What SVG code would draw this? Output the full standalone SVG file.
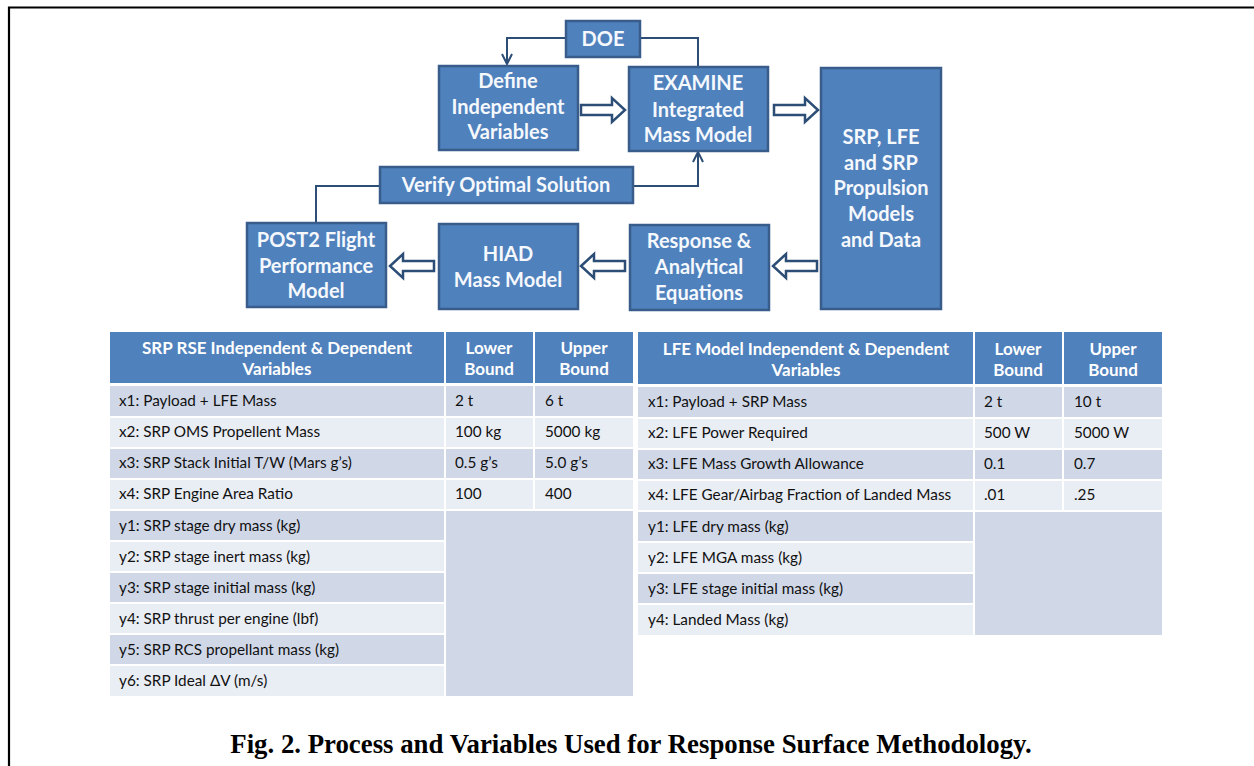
<svg xmlns="http://www.w3.org/2000/svg" width="1254" height="766" viewBox="0 0 1254 766">
<defs>
<marker id="vhead" viewBox="0 0 12 12" refX="11" refY="6" markerWidth="12" markerHeight="12" markerUnits="userSpaceOnUse" orient="auto">
<path d="M1,1 L11,6 L1,11" fill="none" stroke="#2c4d75" stroke-width="2"/>
</marker>
<path id="barrow" d="M0,-5 L31,-5 L31,-12 L44,0 L31,12 L31,5 L0,5 Z"/>
</defs>
<style>
.box{fill:#4f81bd;stroke:#385d8a;stroke-width:2.5}
.bt{font-family:Lato,"Open Sans",sans-serif;font-weight:bold;font-size:20px;fill:#f5f8fc;text-anchor:middle}
.conn{fill:none;stroke:#2c4d75;stroke-width:2}
.blk{fill:#ffffff;stroke:#2c4d75;stroke-width:2.5;stroke-linejoin:miter}
.hd{fill:#4f81bd}
.dk{fill:#d0d8e8}
.lt{fill:#e9edf4}
.ht{font-family:Lato,"Open Sans",sans-serif;font-weight:bold;font-size:17px;fill:#ffffff;text-anchor:middle}
.ct{font-family:Lato,"Open Sans",sans-serif;font-size:15.3px;fill:#111111}
.cap{font-family:"Liberation Serif","Times New Roman",serif;font-weight:bold;font-size:26.8px;fill:#000;text-anchor:middle}
</style>
<rect width="1254" height="766" fill="#ffffff"/>
<path d="M9,766 L9,7.5 L1254,7.5" fill="none" stroke="#000" stroke-width="2.2"/>

<g id="connectors">
<path class="conn" d="M566,38 L507,38 L507,64" marker-end="url(#vhead)"/>
<path class="conn" d="M640,38 L698,38 L698,67"/>
<path class="conn" d="M633,186 L698,186 L698,152" marker-end="url(#vhead)"/>
<path class="conn" d="M380,186 L316,186 L316,223"/>
<use href="#barrow" class="blk" transform="translate(581,110)"/>
<use href="#barrow" class="blk" transform="translate(774,110)"/>
<use href="#barrow" class="blk" transform="translate(434,266) scale(-1,1)"/>
<use href="#barrow" class="blk" transform="translate(625,266) scale(-1,1)"/>
<use href="#barrow" class="blk" transform="translate(817,266) scale(-1,1)"/>
</g>

<g id="doe">
<rect class="box" x="566" y="21" width="74" height="36"/>
<text class="bt" x="603" y="46">DOE</text>
</g>
<g id="define">
<rect class="box" x="439" y="66" width="139" height="84"/>
<text class="bt" x="508" y="88">Define</text>
<text class="bt" x="508" y="114">Independent</text>
<text class="bt" x="508" y="139">Variables</text>
</g>
<g id="examine">
<rect class="box" x="629" y="67" width="139" height="84"/>
<text class="bt" x="698" y="90">EXAMINE</text>
<text class="bt" x="698" y="117">Integrated</text>
<text class="bt" x="698" y="142">Mass Model</text>
</g>
<g id="srp-models">
<rect class="box" x="821" y="68" width="120" height="241"/>
<text class="bt" x="881" y="144">SRP, LFE</text>
<text class="bt" x="881" y="170">and SRP</text>
<text class="bt" x="881" y="195">Propulsion</text>
<text class="bt" x="881" y="221">Models</text>
<text class="bt" x="881" y="247">and Data</text>
</g>
<g id="verify">
<rect class="box" x="380" y="167" width="253" height="36"/>
<text class="bt" x="506" y="192">Verify Optimal Solution</text>
</g>
<g id="post2">
<rect class="box" x="247" y="223" width="139" height="84"/>
<text class="bt" x="316" y="247">POST2 Flight</text>
<text class="bt" x="316" y="273">Performance</text>
<text class="bt" x="316" y="298">Model</text>
</g>
<g id="hiad">
<rect class="box" x="439" y="224" width="139" height="85"/>
<text class="bt" x="508" y="261">HIAD</text>
<text class="bt" x="508" y="287">Mass Model</text>
</g>
<g id="response">
<rect class="box" x="630" y="225" width="139" height="85"/>
<text class="bt" x="699" y="248">Response &amp;</text>
<text class="bt" x="699" y="274">Analytical</text>
<text class="bt" x="699" y="300">Equations</text>
</g>

<g id="table-srp">
<rect class="hd" x="110" y="332" width="334" height="51"/>
<rect class="hd" x="446" y="332" width="87" height="51"/>
<rect class="hd" x="535" y="332" width="98" height="51"/>
<text class="ht" x="277" y="354">SRP RSE Independent &amp; Dependent</text>
<text class="ht" x="277" y="375">Variables</text>
<text class="ht" x="489" y="354">Lower</text>
<text class="ht" x="489" y="375">Bound</text>
<text class="ht" x="584" y="354">Upper</text>
<text class="ht" x="584" y="375">Bound</text>

<rect class="dk" x="110" y="386" width="334" height="30"/><rect class="dk" x="446" y="386" width="87" height="30"/><rect class="dk" x="535" y="386" width="98" height="30"/>
<rect class="lt" x="110" y="418" width="334" height="29"/><rect class="lt" x="446" y="418" width="87" height="29"/><rect class="lt" x="535" y="418" width="98" height="29"/>
<rect class="dk" x="110" y="449" width="334" height="29"/><rect class="dk" x="446" y="449" width="87" height="29"/><rect class="dk" x="535" y="449" width="98" height="29"/>
<rect class="lt" x="110" y="480" width="334" height="29"/><rect class="lt" x="446" y="480" width="87" height="29"/><rect class="lt" x="535" y="480" width="98" height="29"/>
<rect class="dk" x="110" y="511" width="334" height="29"/>
<rect class="lt" x="110" y="542" width="334" height="29"/>
<rect class="dk" x="110" y="573" width="334" height="29"/>
<rect class="lt" x="110" y="604" width="334" height="29"/>
<rect class="dk" x="110" y="635" width="334" height="29"/>
<rect class="lt" x="110" y="666" width="334" height="30"/>
<rect class="dk" x="446" y="511" width="187" height="185"/>

<text class="ct" x="119" y="406">x1: Payload + LFE Mass</text>
<text class="ct" x="455" y="406">2 t</text><text class="ct" x="545" y="406">6 t</text>
<text class="ct" x="119" y="437">x2: SRP OMS Propellent Mass</text>
<text class="ct" x="455" y="437">100 kg</text><text class="ct" x="545" y="437">5000 kg</text>
<text class="ct" x="119" y="468">x3: SRP Stack Initial T/W (Mars g’s)</text>
<text class="ct" x="455" y="468">0.5 g’s</text><text class="ct" x="545" y="468">5.0 g’s</text>
<text class="ct" x="119" y="499">x4: SRP Engine Area Ratio</text>
<text class="ct" x="455" y="499">100</text><text class="ct" x="545" y="499">400</text>
<text class="ct" x="119" y="531">y1: SRP stage dry mass (kg)</text>
<text class="ct" x="119" y="562">y2: SRP stage inert mass (kg)</text>
<text class="ct" x="119" y="593">y3: SRP stage initial mass (kg)</text>
<text class="ct" x="119" y="624">y4: SRP thrust per engine (lbf)</text>
<text class="ct" x="119" y="655">y5: SRP RCS propellant mass (kg)</text>
<text class="ct" x="119" y="686">y6: SRP Ideal ΔV (m/s)</text>
</g>

<g id="table-lfe">
<rect class="hd" x="638" y="332" width="335" height="52"/>
<rect class="hd" x="975" y="332" width="87" height="52"/>
<rect class="hd" x="1064" y="332" width="98" height="52"/>
<text class="ht" x="806" y="355">LFE Model Independent &amp; Dependent</text>
<text class="ht" x="806" y="376">Variables</text>
<text class="ht" x="1018" y="355">Lower</text>
<text class="ht" x="1018" y="376">Bound</text>
<text class="ht" x="1113" y="355">Upper</text>
<text class="ht" x="1113" y="376">Bound</text>

<rect class="dk" x="638" y="387" width="335" height="30"/><rect class="dk" x="975" y="387" width="87" height="30"/><rect class="dk" x="1064" y="387" width="98" height="30"/>
<rect class="lt" x="638" y="419" width="335" height="29"/><rect class="lt" x="975" y="419" width="87" height="29"/><rect class="lt" x="1064" y="419" width="98" height="29"/>
<rect class="dk" x="638" y="450" width="335" height="29"/><rect class="dk" x="975" y="450" width="87" height="29"/><rect class="dk" x="1064" y="450" width="98" height="29"/>
<rect class="lt" x="638" y="481" width="335" height="29"/><rect class="lt" x="975" y="481" width="87" height="29"/><rect class="lt" x="1064" y="481" width="98" height="29"/>
<rect class="dk" x="638" y="512" width="335" height="29"/>
<rect class="lt" x="638" y="543" width="335" height="29"/>
<rect class="dk" x="638" y="574" width="335" height="29"/>
<rect class="lt" x="638" y="605" width="335" height="30"/>
<rect class="dk" x="975" y="512" width="187" height="123"/>

<text class="ct" x="648" y="407">x1: Payload + SRP Mass</text>
<text class="ct" x="984" y="407">2 t</text><text class="ct" x="1074" y="407">10 t</text>
<text class="ct" x="648" y="438">x2: LFE Power Required</text>
<text class="ct" x="984" y="438">500 W</text><text class="ct" x="1074" y="438">5000 W</text>
<text class="ct" x="648" y="469">x3: LFE Mass Growth Allowance</text>
<text class="ct" x="984" y="469">0.1</text><text class="ct" x="1074" y="469">0.7</text>
<text class="ct" x="648" y="500">x4: LFE Gear/Airbag Fraction of Landed Mass</text>
<text class="ct" x="984" y="500">.01</text><text class="ct" x="1074" y="500">.25</text>
<text class="ct" x="648" y="532">y1: LFE dry mass (kg)</text>
<text class="ct" x="648" y="563">y2: LFE MGA mass (kg)</text>
<text class="ct" x="648" y="594">y3: LFE stage initial mass (kg)</text>
<text class="ct" x="648" y="625">y4: Landed Mass (kg)</text>
</g>

<text class="cap" x="631" y="753">Fig. 2. Process and Variables Used for Response Surface Methodology.</text>
</svg>
